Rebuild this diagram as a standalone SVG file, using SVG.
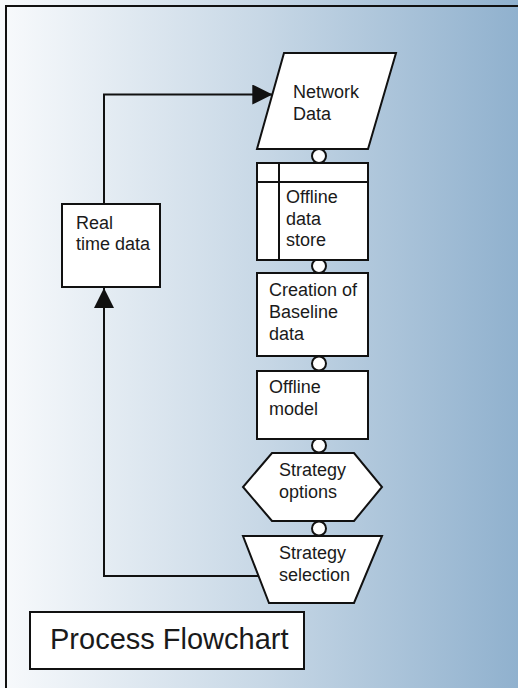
<svg xmlns="http://www.w3.org/2000/svg" width="518" height="688" viewBox="0 0 518 688">
  <defs>
    <linearGradient id="bg" x1="0" y1="0" x2="518" y2="0" gradientUnits="userSpaceOnUse">
      <stop offset="0" stop-color="#f8fafc"/>
      <stop offset="0.5" stop-color="#c8d8e6"/>
      <stop offset="1" stop-color="#90b1ce"/>
    </linearGradient>
    <marker id="arrow" viewBox="0 0 20 20" refX="20" refY="10" markerWidth="20" markerHeight="20" markerUnits="userSpaceOnUse" orient="auto">
      <path d="M0,0 L20,10 L0,20 Z" fill="#111"/>
    </marker>
    <style>
      .shape { fill: #fff; stroke: #111; stroke-width: 2; }
      .inner { fill: none; stroke: #111; stroke-width: 2; }
      .join { fill: #fff; stroke: #111; stroke-width: 2; }
      .flow { fill: none; stroke: #111; stroke-width: 2; }
      text { font-family: "Liberation Sans", Arial, sans-serif; font-size: 18px; fill: #1a1a1a; }
      .title { font-size: 29px; }
    </style>
  </defs>

  <!-- background and frame -->
  <rect x="0" y="0" width="518" height="688" fill="url(#bg)"/>
  <rect x="6" y="6" width="530" height="700" fill="none" stroke="#111" stroke-width="2"/>

  <!-- connectors -->
  <g id="connectors">
    <path class="flow" d="M258.5,576 H104 V288" marker-end="url(#arrow)"/>
    <path class="flow" d="M104,204 V94.5 H272.3" marker-end="url(#arrow)"/>
    <circle class="join" cx="319" cy="156" r="7"/>
    <circle class="join" cx="319" cy="266" r="7"/>
    <circle class="join" cx="319" cy="363.5" r="7"/>
    <circle class="join" cx="319" cy="445.5" r="7"/>
    <circle class="join" cx="319" cy="528.5" r="7"/>
  </g>

  <g id="network-data">
    <polygon class="shape" points="284,53 396,53 368,149 257,149"/>
    <text x="293" y="98">Network</text>
    <text x="293" y="119.5">Data</text>
  </g>

  <g id="offline-data-store">
    <rect class="shape" x="257" y="163" width="111" height="97"/>
    <line class="inner" x1="279" y1="163" x2="279" y2="260"/>
    <line class="inner" x1="257" y1="182" x2="368" y2="182"/>
    <text x="286" y="203">Offline</text>
    <text x="286" y="224.5">data</text>
    <text x="286" y="246">store</text>
  </g>

  <g id="baseline-data">
    <rect class="shape" x="257" y="273" width="111" height="83"/>
    <text x="269" y="296">Creation of</text>
    <text x="269" y="318">Baseline</text>
    <text x="269" y="340">data</text>
  </g>

  <g id="offline-model">
    <rect class="shape" x="257" y="371" width="111" height="68"/>
    <text x="269" y="393">Offline</text>
    <text x="269" y="415">model</text>
  </g>

  <g id="strategy-options">
    <polygon class="shape" points="272,453 354,453 382,487 354,521 272,521 243,487"/>
    <text x="279" y="476">Strategy</text>
    <text x="279" y="497.5">options</text>
  </g>

  <g id="strategy-selection">
    <polygon class="shape" points="243,536 382,536 354,603 269,603"/>
    <text x="279" y="559">Strategy</text>
    <text x="279" y="580.5">selection</text>
  </g>

  <g id="real-time-data">
    <rect class="shape" x="62" y="204" width="98" height="83"/>
    <text x="76" y="228.5">Real</text>
    <text x="76" y="249.5">time data</text>
  </g>

  <g id="title">
    <rect class="shape" x="30" y="612" width="274" height="57"/>
    <text class="title" x="50" y="649">Process Flowchart</text>
  </g>
</svg>
